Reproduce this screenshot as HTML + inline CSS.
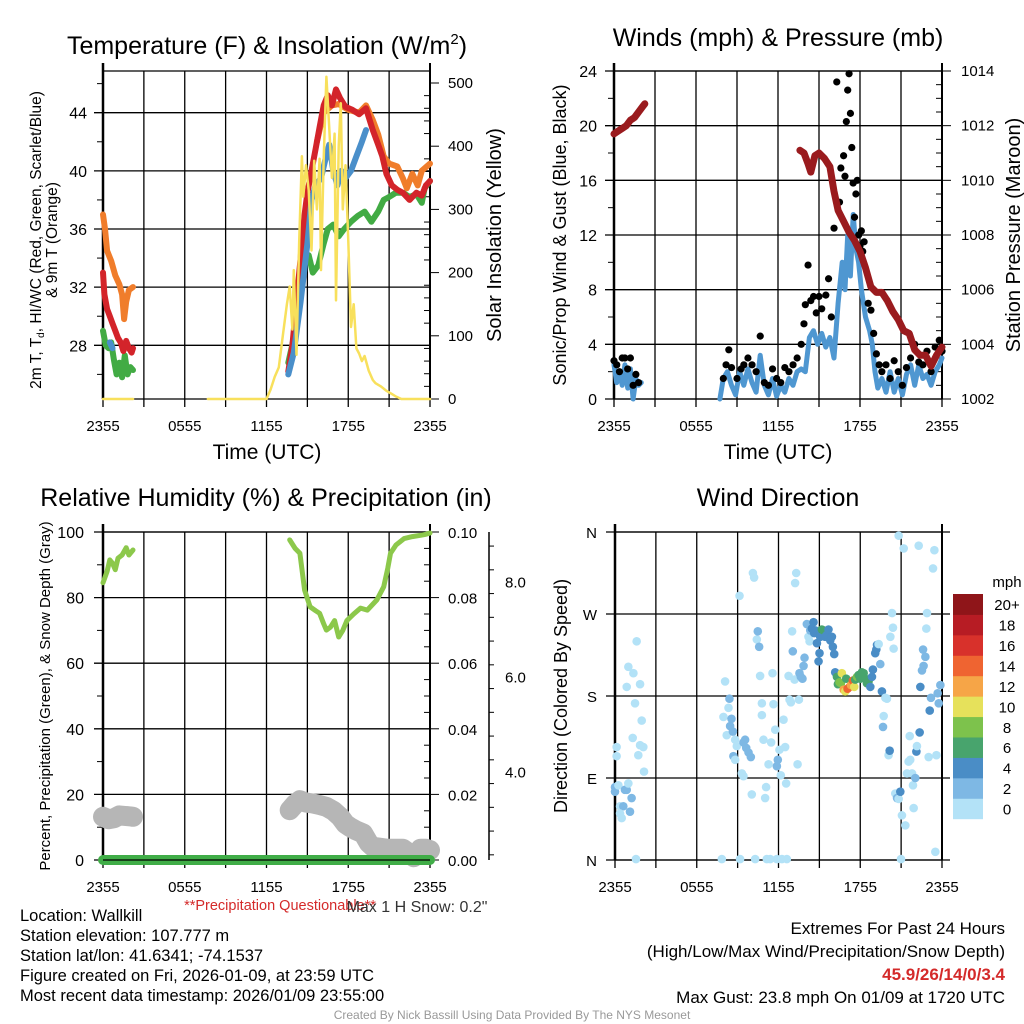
<!DOCTYPE html>
<html><head><meta charset="utf-8"><style>
html,body{margin:0;padding:0;background:#fff;width:1024px;height:1024px;overflow:hidden}
svg{display:block;font-family:"Liberation Sans",Arial,sans-serif}
</style></head><body>
<svg id="c" width="1024" height="1024" viewBox="0 0 1024 1024">
<text x="267" y="54" font-size="25" text-anchor="middle">Temperature (F) &amp; Insolation (W/m<tspan font-size="15" dy="-10">2</tspan><tspan dy="10">)</tspan></text>
<text x="778" y="46" font-size="25" text-anchor="middle">Winds (mph) &amp; Pressure (mb)</text>
<text x="266" y="506" font-size="25" text-anchor="middle">Relative Humidity (%) &amp; Precipitation (in)</text>
<text x="778" y="506" font-size="25" text-anchor="middle">Wind Direction</text>
<text x="267" y="459" font-size="21" text-anchor="middle">Time (UTC)</text>
<text x="778" y="459" font-size="21" text-anchor="middle">Time (UTC)</text>
<text transform="translate(41,240) rotate(-90)" font-size="15.5" text-anchor="middle">2m T, T<tspan font-size="10" dy="3">d</tspan><tspan dy="-3">, HI/WC (Red, Green, Scarlet/Blue)</tspan></text>
<text transform="translate(57,240) rotate(-90)" font-size="15.5" text-anchor="middle">&amp; 9m T (Orange)</text>
<text transform="translate(501,235) rotate(-90)" font-size="20" text-anchor="middle">Solar Insolation (Yellow)</text>
<text transform="translate(566,235) rotate(-90)" font-size="18" text-anchor="middle">Sonic/Prop Wind &amp; Gust (Blue, Black)</text>
<text transform="translate(1020,235) rotate(-90)" font-size="20" text-anchor="middle">Station Pressure (Maroon)</text>
<text transform="translate(50,696) rotate(-90)" font-size="15" text-anchor="middle">Percent, Precipitation (Green), &amp; Snow Depth (Gray)</text>
<text transform="translate(567,696) rotate(-90)" font-size="18" text-anchor="middle">Direction (Colored By Speed)</text>
<text x="280" y="910" font-size="14.5" fill="#d42a2a" text-anchor="middle">**Precipitation Questionable**</text>
<text x="417" y="912" font-size="16" fill="#333" text-anchor="middle">Max 1 H Snow: 0.2"</text>
<g font-size="16.5">
<text x="20" y="921">Location: Wallkill</text>
<text x="20" y="941">Station elevation: 107.777 m</text>
<text x="20" y="961">Station lat/lon: 41.6341; -74.1537</text>
<text x="20" y="981">Figure created on Fri, 2026-01-09, at 23:59 UTC</text>
<text x="20" y="1001">Most recent data timestamp: 2026/01/09 23:55:00</text>
</g>
<g font-size="17" text-anchor="end">
<text x="1005" y="934">Extremes For Past 24 Hours</text>
<text x="1005" y="957">(High/Low/Max Wind/Precipitation/Snow Depth)</text>
<text x="1005" y="980" font-weight="bold" fill="#d42a2a">45.9/26/14/0/3.4</text>
<text x="1005" y="1003">Max Gust: 23.8 mph On 01/09 at 1720 UTC</text>
</g>
<text x="512" y="1019" font-size="12" fill="#999" text-anchor="middle">Created By Nick Bassill Using Data Provided By The NYS Mesonet</text>
</svg>
<script>
// ---- Panel 1 data (hours after 2355 UTC) ----
const red1=[[0,33],[0.1,31.5],[0.3,30.5],[0.5,30],[0.7,29.5],[0.9,29],[1.1,28.5],[1.3,28.2],[1.5,27.6],[1.7,28.3],[1.9,27.8],[2.1,27.5],[2.2,27.8]];
const red2=[[13.6,26.2],[13.9,28],[14.2,31],[14.5,34],[14.8,37],[15.0,38.5],[15.3,40],[15.6,41.5],[15.9,43],[16.2,44.5],[16.5,45.2],[16.8,44.5],[17.1,45.6],[17.4,45],[17.8,44.4],[18.3,44.2],[18.8,43.9],[19.3,44.3],[19.8,42.8],[20.2,41.8],[20.5,41],[20.8,39.8],[21.2,39],[21.6,38.7],[22,38.5],[22.5,38],[23,38.5],[23.4,38.3],[23.7,39],[24,39.3]];
const orange1=[[0,37],[0.15,36],[0.3,34.5],[0.6,33.8],[0.9,32.8],[1.2,32.2],[1.4,31.5],[1.55,29.8],[1.7,31],[1.9,31.8],[2.2,32]];
const orange2=[[15.7,42],[16.2,44],[16.8,44.5],[17.3,44.6],[18,44.2],[18.8,44],[19.3,44.5],[19.8,43.5],[20.2,42.5],[20.6,41],[21,40.5],[21.6,40.3],[22,39.5],[22.3,38.8],[22.7,39.8],[23.1,39],[23.4,40],[24,40.5]];
const blue1=[[0.5,28.2],[0.7,27.8]];
const blue2=[[13.6,26],[14,27.5],[14.5,31],[15,35],[15.3,38],[15.6,39],[16,39.5],[16.3,40.7],[16.6,41.8],[16.9,40],[17.2,39],[17.5,40],[17.8,39.5],[18.2,40],[18.6,41],[19,42],[19.3,42.8]];
const green1=[[0,29],[0.2,28],[0.4,27.8],[0.6,28.2],[0.8,27],[1.0,26],[1.2,26.8],[1.4,25.8],[1.6,27.3],[1.8,26],[2.0,26.5],[2.2,26.3]];
const green2=[[13.6,26.8],[14,28.5],[14.5,32],[14.8,34],[15.1,34.2],[15.4,33],[15.8,33.5],[16.2,35],[16.5,36],[16.9,36.3],[17.3,35.5],[17.7,36],[18.2,36.5],[18.7,36.9],[19.2,37.2],[19.7,36.5],[20.2,37.2],[20.6,38],[21,38.2],[21.5,38.5],[22,38.5],[22.5,38.2],[23,38.4],[23.4,37.8],[23.6,38.8],[24,39.3]];
const sun1=[[0,0],[2.2,0]];
const sun2=[[7.7,0],[12.0,0],[12.3,15],[12.6,35],[12.9,50],[13.2,100],[13.5,150],[13.7,178],[13.9,110],[14.0,204],[14.2,70],[14.4,250],[14.6,384],[14.7,320],[14.9,370],[15.1,330],[15.3,235],[15.5,377],[15.7,300],[15.9,380],[16.0,204],[16.2,380],[16.4,510],[16.6,430],[16.8,350],[17.0,420],[17.1,156],[17.3,400],[17.45,468],[17.6,300],[17.8,370],[18.0,250],[18.2,114],[18.4,150],[18.6,80],[18.8,72],[19.0,60],[19.2,68],[19.5,45],[19.8,30],[20.0,25],[20.4,20],[20.8,13],[21.2,8],[21.5,4],[21.9,0],[24,0]];
const tempTicks=[28,32,36,40,44];
const sunTicks=[0,100,200,300,400,500];
const timeLabels=["2355","0555","1155","1755","2355"];
// ---- Panel 2 data ----
const pres1=[[0,1011.7],[0.3,1011.8],[0.6,1011.9],[0.9,1012],[1.2,1012.2],[1.5,1012.3],[1.8,1012.5],[2.1,1012.7],[2.25,1012.8]];
const pres2=[[13.6,1011.1],[13.9,1011],[14.2,1010.6],[14.4,1010.3],[14.7,1010.9],[15.0,1011],[15.4,1010.8],[15.8,1010.5],[16.1,1009.6],[16.4,1008.9],[16.8,1008.5],[17.2,1008.1],[17.6,1007.8],[18.0,1007.4],[18.4,1006.8],[18.8,1006.1],[19.2,1005.9],[19.6,1005.9],[20.0,1005.6],[20.4,1005.2],[20.8,1004.9],[21.2,1004.5],[21.6,1004.4],[22.0,1003.8],[22.4,1003.6],[22.8,1003.6],[23.2,1003.2],[23.6,1003.6],[24,1003.9]];
const wind1=[[0,2.5],[0.2,1.2],[0.4,2],[0.6,1],[0.8,2.5],[1,0.8],[1.2,2.2],[1.4,0],[1.6,1.5],[1.8,1],[2,1.2]];
const wind2=[[7.75,0],[8,1.5],[8.3,2],[8.6,1],[8.9,0.3],[9.2,2],[9.5,1],[9.8,2.2],[10.1,1.2],[10.4,0.5],[10.7,3.2],[11,1],[11.3,0.3],[11.6,1.5],[11.9,0.2],[12.2,1],[12.5,0.5],[12.8,1.5],[13.1,1],[13.4,2],[13.7,2.2],[14,2],[14.3,4.5],[14.6,5],[14.9,4],[15.2,4.8],[15.5,3.8],[15.8,4.5],[16.1,3],[16.4,7],[16.7,10],[16.9,8],[17.1,12],[17.3,9],[17.5,13.5],[17.7,11],[17.9,10],[18.1,8],[18.4,6],[18.7,5],[18.9,4],[19.1,2],[19.3,0.8],[19.6,1.5],[19.9,0.5],[20.2,2],[20.5,0.5],[20.8,1.5],[21.1,0.3],[21.4,1.8],[21.7,2.5],[22,1],[22.3,2.5],[22.6,1.5],[22.9,1.8],[23.2,1],[23.5,2],[23.8,2.5],[24,3]];
const gusts=[[0,2.8],[0.2,2.5],[0.4,2],[0.6,3],[0.8,3],[1,2.2],[1.2,3],[1.4,1],[1.6,1.8],[1.8,1.2],[8,1.5],[8.2,2.5],[8.4,3.6],[8.6,2.3],[9,1.5],[9.3,2.2],[9.5,2.5],[9.8,3],[10.1,2.5],[10.4,2],[10.7,4.6],[11,1.2],[11.3,1],[11.6,2.2],[11.9,1.5],[12.2,1.2],[12.5,2.3],[12.8,2],[13.1,2.5],[13.4,3],[13.7,4],[13.9,5.5],[14,6.9],[14.2,9.8],[14.4,7.2],[14.6,7.5],[14.8,6.3],[15,7.5],[15.2,6.6],[15.5,7.6],[15.7,8.8],[15.9,6],[16.1,12.5],[16.3,23.2],[16.5,14.4],[16.6,16.9],[16.8,17.8],[16.9,16.3],[17,20.3],[17.1,22.6],[17.2,23.8],[17.3,20.9],[17.4,18.4],[17.5,15.8],[17.6,13.3],[17.7,15],[17.8,16],[17.9,12],[18,11.2],[18.1,12.3],[18.2,10.8],[18.3,11.5],[18.6,7],[18.8,6.5],[19,4.8],[19.2,3.3],[19.4,2.5],[19.6,2],[19.9,2.5],[20.2,1.5],[20.5,2.8],[20.8,2],[21.1,1],[21.4,2.3],[21.7,3],[22,4],[22.3,2.7],[22.6,2.5],[22.9,3.5],[23.2,2],[23.5,3.8],[23.8,4.3],[24,3.5]];
const windTicks=[0,4,8,12,16,20,24];
const presTicks=[1002,1004,1006,1008,1010,1012,1014];
// ---- Panel 3 data ----
const rh1=[[0,84.5],[0.3,88],[0.5,91.5],[0.7,90.5],[0.9,88.5],[1.1,92],[1.4,93],[1.7,95.2],[1.9,93],[2.2,94.5]];
const rh2=[[13.7,97.6],[14.1,95],[14.45,93.5],[14.8,82.3],[15.2,77.2],[15.6,76],[15.9,75.2],[16.2,72],[16.4,70.1],[16.7,71],[17,73],[17.3,68],[17.6,70],[17.9,73],[18.4,75],[18.9,76.8],[19.4,76.2],[20.1,79.3],[20.6,83.3],[20.9,89],[21.1,93.5],[21.5,96],[22.1,98],[22.7,98.6],[23.3,99],[23.7,99.3],[24,99.7]];
const snow1=[[0,3.05],[0.4,3.0],[0.8,3.02],[1.2,3.08],[1.6,3.07],[2.0,3.06],[2.2,3.05]];
const snow2=[[13.7,3.19],[14.1,3.32],[14.45,3.4],[14.9,3.35],[15.4,3.33],[15.9,3.3],[16.4,3.26],[16.9,3.18],[17.4,3.05],[17.8,2.9],[18.1,2.84],[18.6,2.76],[19.1,2.7],[19.5,2.5],[19.8,2.42],[20.3,2.4],[20.8,2.38],[21.4,2.38],[22,2.38],[22.4,2.3],[22.8,2.2],[23.3,2.38],[23.7,2.38],[24,2.35]];
const precip=[[0,0],[24,0]];
const rhTicks=[0,20,40,60,80,100];
const precipTicks=["0.00","0.02","0.04","0.06","0.08","0.10"];
const snowTicks=[4,6,8];
// ---- Panel 4 data [hour, direction deg, speed mph] ----
const wdir=[[0,80,3],[0,75,3],[0.25,82,1],[0.37,59,1],[0.61,59,3],[0.73,77,3],[0.86,77,3],[0.98,84,1],[1.1,53,3],[1.22,68,3],[0.37,51,1],[0.49,46,1],[0.12,124,1],[0.12,114,1],[0.86,190,1],[0.98,212,1],[1.35,205,1],[1.47,172,1],[1.59,240,1],[1.84,193,1],[1.96,153,1],[1.3,134,1],[1.71,115,1],[1.84,126,1],[2.08,124,1],[2.13,97,1],[1.54,1,1],
[7.84,1,1],[9.18,1,1],[10.29,1,1],[11.14,1,1],[11.39,1,1],[11.88,1,1],[12.25,1,1],[12.61,1,1],[7.96,157,1],[8.08,196,1],[8.2,137,1],[8.33,167,1],[8.4,177,3],[8.45,147,3],[8.55,155,3],[8.65,141,3],[8.69,114,3],[8.82,132,1],[8.94,125,1],[8.82,110,1],[9.31,95,1],[9.43,92,1],[9.43,129,3],[9.55,132,3],[9.63,123,3],[9.8,118,3],[9.97,113,3],[10.04,72,1],[9.14,290,1],[10.12,315,1],[10.21,310,1],[10.41,242,1],[10.48,251,3],[10.58,234,3],[10.65,202,1],[10.78,172,1],[10.78,159,1],[10.9,132,1],[11.02,68,1],[11.09,80,1],[11.27,105,1],[11.46,129,1],[11.56,205,1],[11.63,171,1],[11.76,143,1],[11.88,103,3],[11.95,110,3],[12.07,121,1],[12.17,93,1],[12.37,154,1],[12.49,124,1],[12.56,84,1],[12.74,202,1],[12.81,176,1],[12.91,173,1],[13.0,251,1],[13.05,229,3],[13.18,198,1],[13.22,304,1],[13.3,315,1],[13.4,105,1],[13.5,176,1],[13.54,205,3],[13.64,201,3],[13.76,199,3],[13.84,213,3],[13.91,222,3],[14.08,259,3],[14.2,245,1],[14.28,240,1],[14.33,252,3],[14.45,254,5],[14.57,261,5],[14.62,249,5],[14.7,252,5],[14.82,238,5],[14.94,218,5],[15.01,227,5],[15.06,245,5],[15.18,253,7],[15.31,252,7],[15.43,245,5],[15.55,247,5],[15.67,253,5],[15.8,241,5],[15.92,245,5],[15.99,234,5],[16.09,226,5],[16.16,206,5],[16.29,201,7],[16.36,193,7],[16.48,195,9],[16.58,194,9],[16.65,205,11],[16.78,187,13],[16.9,185,11],[16.97,199,7],[17.07,188,15],[17.22,190,15],[17.32,192,13],[17.46,197,15],[17.56,190,11],[17.63,198,7],[17.76,201,9],[17.88,203,7],[18.0,199,7],[18.12,206,7],[18.25,205,7],[18.37,199,7],[18.49,194,7],[18.61,196,7],[18.74,190,5],[18.86,201,5],[18.93,209,5],[19.1,227,5],[19.18,231,5],[19.23,236,5],[19.35,237,1],[19.47,215,3],[19.59,185,5],[19.72,158,1],[19.84,178,1],[19.67,146,3],[19.96,177,1],[20.08,115,1],[20.16,120,5],[20.21,245,1],[20.33,271,1],[20.4,255,1],[20.45,232,1],[20.57,73,1],[20.7,68,3],[20.82,67,1],[20.94,75,5],[20.99,1,1],[21.06,49,1],[20.82,356,1],[21.19,342,1],[21.31,38,1],[21.43,95,1],[21.55,108,1],[21.63,136,1],[21.67,110,1],[21.8,95,1],[21.87,82,1],[21.92,57,1],[22.04,90,3],[22.12,119,5],[22.16,125,1],[22.29,345,1],[22.36,140,5],[22.41,190,5],[22.53,208,3],[22.61,231,3],[22.65,213,3],[22.78,223,3],[22.85,254,1],[22.9,271,1],[23.02,113,1],[23.1,164,5],[23.19,178,3],[23.34,320,1],[23.44,340,1],[23.59,115,1],[23.51,9,1],[23.68,183,3],[23.76,172,3],[23.88,192,3]];
const dirLabels=["N","E","S","W","N"];
const speedLabels=["0","2","4","6","8","10","12","14","16","18","20+"];
const speedColors=["#b3e2f7","#7eb8e4","#4a8dc6","#48a46d","#7dc24c","#e6e15b","#f6a547","#ef6431","#d8312b","#b71c24","#8f1519"];

const NS="http://www.w3.org/2000/svg";
const svg=document.getElementById('c');
function el(tag,attrs,parent){const e=document.createElementNS(NS,tag);for(const k in attrs)e.setAttribute(k,attrs[k]);(parent||svg).appendChild(e);return e;}
function txt(x,y,s,size,anchor,parent){const t=el('text',{x:x,y:y,'font-size':size,'text-anchor':anchor},parent);t.textContent=s;return t;}
function scale(d0,d1,r0,r1){return v=>r0+(v-d0)/(d1-d0)*(r1-r0);}
function pathD(pts,X,Y){return pts.map((p,i)=>(i?'L':'M')+X(p[0]).toFixed(1)+','+Y(p[1]).toFixed(1)).join('');}

function frame(name,x0,x1,y0,y1){
  const g=el('g',{});
  
  
  const X=scale(0,24,x0,x1);
  for(let h=0;h<=24;h+=3){const x=X(h);el('line',{x1:x,x2:x,y1:y0,y2:y1+8,stroke:'#000','stroke-width':1.3},g);}
  timeLabels.forEach((s,i)=>{const t=txt(X(i*6),y1+32,s,15,'middle',g);});
  return {g,X};
}
function hgrid(g,Y,vals,x0,x1,color){vals.forEach(v=>el('line',{x1:x0-9,x2:x1,y1:Y(v),y2:Y(v),stroke:color||'#000','stroke-width':1.3},g));}
function box(g,x0,x1,y0,y1){el('line',{x1:x0,x2:x0,y1:y0-8,y2:y1,stroke:'#000','stroke-width':2.5},g);el('line',{x1:x1,x2:x1,y1:y0-8,y2:y1,stroke:'#000','stroke-width':2},g);el('line',{x1:x0,x2:x1,y1:y0,y2:y0,stroke:'#000','stroke-width':1.3},g);el('line',{x1:x0,x2:x1,y1:y1,y2:y1,stroke:'#000','stroke-width':1.3},g);}
function line(g,pts,X,Y,color,w,name){const p=el('path',{d:pathD(pts,X,Y),fill:'none',stroke:color,'stroke-width':w,'stroke-linejoin':'round','stroke-linecap':'round'},g);return p;}

// ===== Panel 1 =====
(function(){
  const x0=103,x1=430,y0=71,y1=399;
  const {g,X}=frame('temperature',x0,x1,y0,y1);
  const Y=scale(28,44,345.3,112.7);
  const Ys=scale(0,500,399,83);
  hgrid(g,Y,tempTicks,x0,x1);
  for(let v=26;v<=46;v+=2){if(v%4)el('line',{x1:x0-6,x2:x0,y1:Y(v),y2:Y(v),stroke:'#000','stroke-width':1},g);}
  tempTicks.forEach(v=>{const t=txt(87,Y(v)+6,String(v),16,'end',g);});
  for(let v=0;v<=500;v+=20){const major=v%100===0;el('line',{x1:x1,x2:major?x1+9:x1-6,y1:Ys(v),y2:Ys(v),stroke:'#000','stroke-width':1},g);}
  sunTicks.forEach(v=>{const t=txt(448,Ys(v)+5,String(v),15,'start',g);});
  box(g,x0,x1,y0,y1);
  line(g,orange1,X,Y,'#f07d2b',6,'temp-9m-line');line(g,orange2,X,Y,'#f07d2b',6,'temp-9m-line');
  line(g,green1,X,Y,'#42ab44',6,'dewpoint-line');line(g,green2,X,Y,'#42ab44',6,'dewpoint-line');
  line(g,red1,X,Y,'#d3242a',6,'temp-2m-line');line(g,red2,X,Y,'#d3242a',6,'temp-2m-line');
  line(g,blue1,X,Y,'#4a8fca',6,'windchill-line');line(g,blue2,X,Y,'#4a8fca',6,'windchill-line');
  line(g,sun1,X,Ys,'#f8e05c',2.5,'insolation-line');line(g,sun2,X,Ys,'#f8e05c',2.5,'insolation-line');
})();

// ===== Panel 2 =====
(function(){
  const x0=614,x1=942,y0=71,y1=399;
  const {g,X}=frame('winds',x0,x1,y0,y1);
  const Y=scale(0,24,399,71);
  const Yp=scale(1002,1014,399,71);
  hgrid(g,Y,windTicks,x0,x1);
  for(let v=2;v<24;v+=4)el('line',{x1:x0-6,x2:x0,y1:Y(v),y2:Y(v),stroke:'#000','stroke-width':1},g);
  windTicks.forEach(v=>{const t=txt(597,Y(v)+6,String(v),16,'end',g);});
  for(let v=1002;v<=1014;v+=0.5){const major=v%2===0;el('line',{x1:x1,x2:major?x1+9:x1-6,y1:Yp(v),y2:Yp(v),stroke:'#000','stroke-width':1},g);}
  presTicks.forEach(v=>{const t=txt(961,Yp(v)+5,String(v),15,'start',g);});
  box(g,x0,x1,y0,y1);
  line(g,wind1,X,Y,'#4f97d1',5,'wind-speed-line');line(g,wind2,X,Y,'#4f97d1',5,'wind-speed-line');
  gusts.forEach(p=>{const c=el('circle',{cx:X(p[0]),cy:Y(p[1]),r:3.6,fill:'#000'},g);});
  line(g,pres1,X,Yp,'#9a1b1e',7,'pressure-line');line(g,pres2,X,Yp,'#9a1b1e',7,'pressure-line');
})();

// ===== Panel 3 =====
(function(){
  const x0=103,x1=430,y0=532,y1=860;
  const {g,X}=frame('humidity',x0,x1,y0,y1);
  const Y=scale(0,100,860,532);
  const Ysn=scale(4,8,771.7,581.7);
  hgrid(g,Y,rhTicks,x0,x1);
  for(let v=10;v<100;v+=20)el('line',{x1:x0-6,x2:x0,y1:Y(v),y2:Y(v),stroke:'#000','stroke-width':1},g);
  rhTicks.forEach(v=>{const t=txt(84,Y(v)+6,String(v),16,'end',g);});
  for(let v=0;v<=100;v+=5){const major=v%20===0;el('line',{x1:x1,x2:major?x1+9:x1-6,y1:Y(v),y2:Y(v),stroke:'#000','stroke-width':1},g);}
  precipTicks.forEach((s,i)=>{const t=txt(448,Y(i*20)+6,s,15,'start',g);});
  el('line',{x1:489,x2:489,y1:532,y2:860,stroke:'#000','stroke-width':1.5},g);
  for(let v=2.25;v<=9;v+=0.5){if(Ysn(v)>=532&&Ysn(v)<=860){const major=v%2===0;el('line',{x1:489,x2:major?498:494,y1:Ysn(v),y2:Ysn(v),stroke:'#000','stroke-width':1},g);}}
  snowTicks.forEach(v=>{const t=txt(505,Ysn(v)+6,v.toFixed(1),15,'start',g);});
  box(g,x0,x1,y0,y1);
  line(g,snow1,X,Ysn,'#b6b6b6',20,'snow-depth-line');line(g,snow2,X,Ysn,'#b6b6b6',20,'snow-depth-line');
  line(g,rh1,X,Y,'#8cc84b',5,'rh-line');line(g,rh2,X,Y,'#8cc84b',5,'rh-line');
  line(g,precip,X,Y,'#40ad47',10,'precip-line');
  el('line',{x1:x0,x2:x1,y1:y1,y2:y1,stroke:'#000','stroke-width':1.3},g);
})();

// ===== Panel 4 =====
(function(){
  const x0=615,x1=942,y0=532,y1=860;
  const {g,X}=frame('wind-direction',x0,x1,y0,y1);
  const Y=scale(0,360,860,532);
  const dv=[0,90,180,270,360];
  hgrid(g,Y,dv,x0,x1+8);
  dirLabels.forEach((s,i)=>{const t=txt(597,Y(i*90)+6,s,15,'end',g);});
  box(g,x0,x1,y0,y1);
  wdir.forEach(p=>{const ci=Math.min(10,Math.floor(p[2]/2));const c=el('circle',{cx:X(p[0]),cy:Y(p[1]),r:4.3,fill:speedColors[ci]},g);});
  const lg=el('g',{});
  
  
  const bh=(818.7-594)/11;
  speedLabels.forEach((s,i)=>{const yy=818.7-(i+1)*bh;el('rect',{x:953,y:yy,width:30,height:bh+0.5,fill:speedColors[i]},lg);txt(1007,yy+bh/2+6,s,15,'middle',lg);});
  txt(1007,587,'mph',15,'middle',lg);
})();
</script>
</body></html>
